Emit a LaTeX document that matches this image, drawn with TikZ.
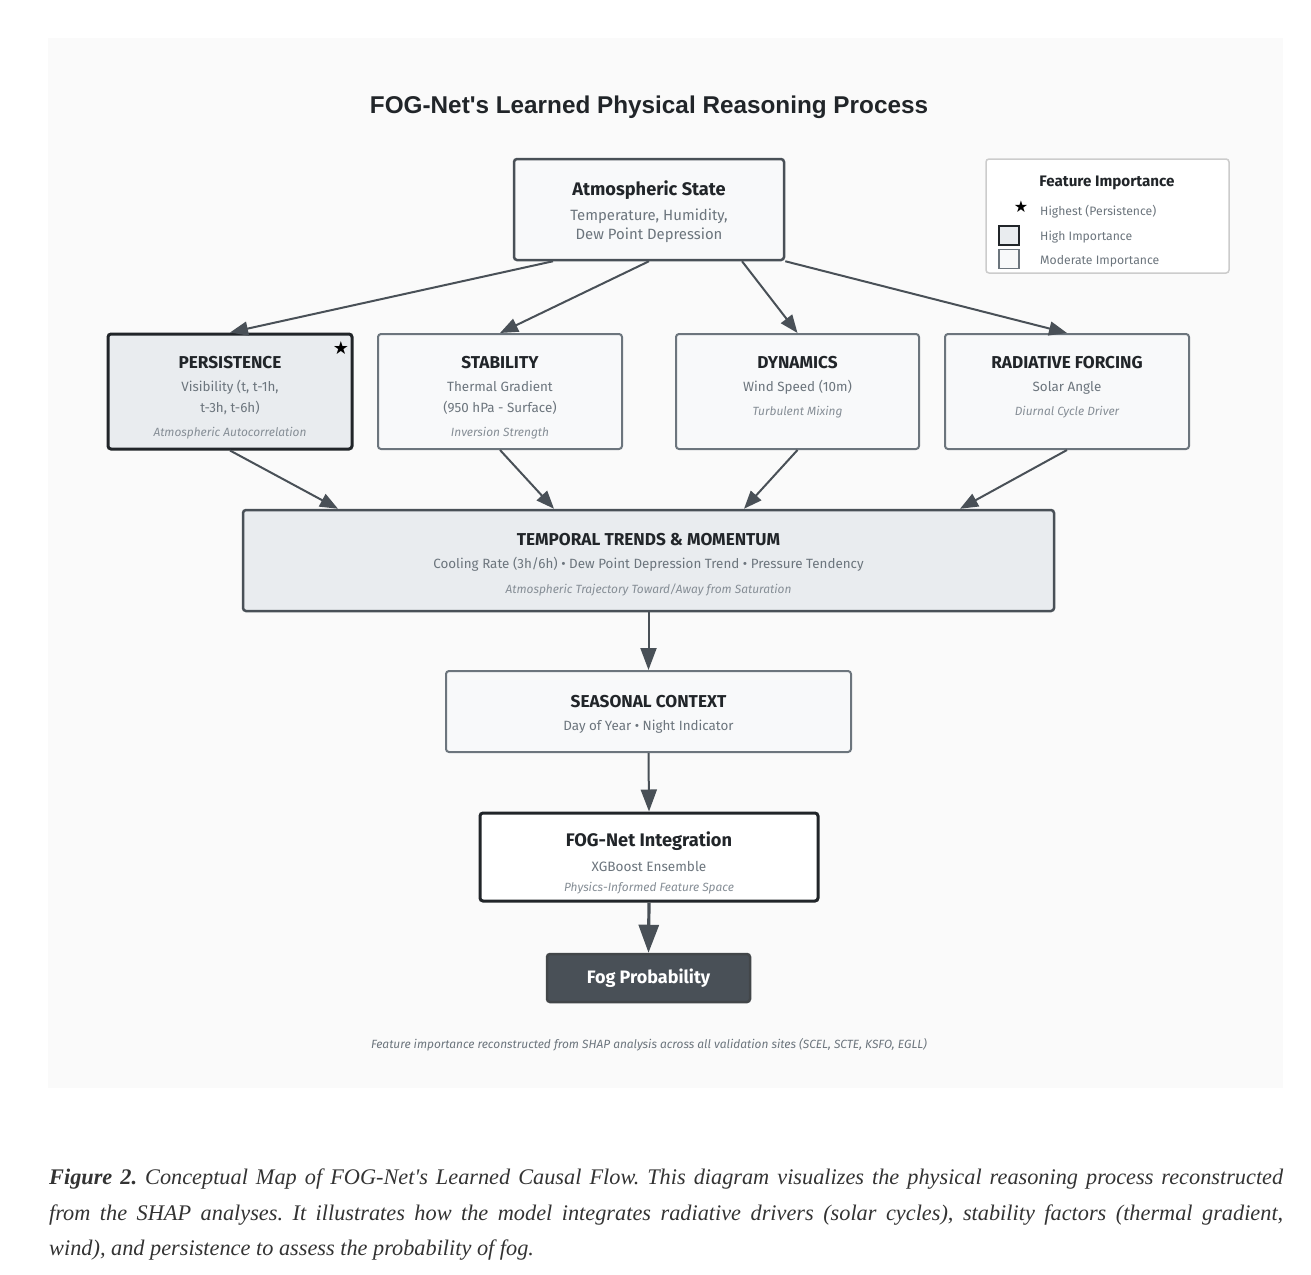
\documentclass[tikz,border=0pt]{standalone}
\usepackage{fontspec}
\setmainfont{Fira Sans}
\newfontfamily\headfont{Liberation Sans}
\newfontfamily\capfont{Liberation Serif}
\newfontfamily\symfont{DejaVu Sans}
\usetikzlibrary{arrows.meta}
\definecolor{ink}{HTML}{212529}
\definecolor{edge}{HTML}{495057}
\definecolor{subgray}{HTML}{6C757D}
\definecolor{notegray}{HTML}{868E96}
\definecolor{lightfill}{HTML}{F8F9FA}
\definecolor{highfill}{HTML}{E9ECEF}
\definecolor{bgfill}{HTML}{FAFAFA}
\definecolor{capgray}{HTML}{333333}
\newcommand\cardtitle[1]{{\fontsize{17.2}{19}\selectfont\bfseries\color{ink}#1}}
\newcommand\bigtitle[1]{{\fontsize{18.2}{21}\selectfont\bfseries\color{ink}#1}}
\newcommand\note[1]{{\fontsize{11.9}{14}\selectfont\itshape\color{notegray}#1}}
\newcommand\topstrut[1]{\rule{0pt}{#1}}
\newcommand\lowstrut[1]{\rule[-#1]{0pt}{#1}}
\newcommand\starmark{{\symfont ★}}
\tikzstyle{card}=[rectangle,rounded corners=3pt,draw=subgray,line width=2pt,fill=lightfill,align=center,text=subgray,font=\fontsize{13.4}{21}\selectfont,minimum width=244pt,minimum height=115pt,inner sep=0pt]
\tikzstyle{high}=[draw=ink,line width=3pt,fill=highfill]
\tikzstyle{core}=[draw=edge,line width=2.5pt]
\tikzstyle{legtext}=[anchor=west,inner sep=0pt,text=subgray,font=\fontsize{12.2}{14}\selectfont]
\tikzstyle{flow}=[line width=2pt,draw=edge,-{Triangle[length=18pt,width=14pt]}]
\tikzstyle{flowv}=[line width=2pt,draw=edge,-{Triangle[length=22pt,width=16pt]}]
\tikzstyle{flowout}=[line width=3.2pt,draw=edge,-{Triangle[length=28pt,width=20pt]}]
\begin{document}
\begin{tikzpicture}[x=1pt,y=-1pt]
	\useasboundingbox (0,0) rectangle (1311,1274);
	\fill[bgfill] (48,38) rectangle (1283,1088);
	\node[text=ink,font=\headfont\bfseries\fontsize{24.3}{28}\selectfont] (title) at (649,107) {FOG-Net's Learned Physical Reasoning Process};
	% input state
	\node[card,core,minimum width=270pt,minimum height=101pt,font=\fontsize{14.9}{19}\selectfont] (atm) at (649,209.5)
		{\topstrut{18.5pt}\bigtitle{Atmospheric State}\\[6pt] Temperature, Humidity,\\ Dew Point Depression};
	% legend
	\node[rectangle,rounded corners=3pt,draw=black!20,line width=1.5pt,fill=white,minimum width=243pt,minimum height=114pt] (leg) at (1107.5,216) {};
	\node[text=ink,font=\fontsize{15.2}{17}\selectfont\bfseries] (legtitle) at (1107,183) {Feature Importance};
	\node[inner sep=0pt,font=\fontsize{16}{17}\selectfont] (legstar) at (1021,207) {\starmark};
	\node[legtext] (leghigh) at (1040,211.5) {Highest (Persistence)};
	\node[rectangle,high,line width=2.5pt,minimum width=20pt,minimum height=19pt,inner sep=0pt] (swhigh) at (1009,235.5) {};
	\node[legtext] (legimp) at (1040,237.5) {High Importance};
	\node[rectangle,draw=subgray,line width=1.5pt,fill=lightfill,minimum width=20pt,minimum height=19pt,inner sep=0pt] (swmod) at (1009,259) {};
	\node[legtext] (legmod) at (1040,261) {Moderate Importance};
	% feature groups
	\node[card,high] (pers) at (230,391.5)
		{\topstrut{24pt}\cardtitle{PERSISTENCE}\\[2pt] Visibility (t, t-1h,\\ t-3h, t-6h)\\[3pt] \note{Atmospheric Autocorrelation}};
	\node[inner sep=0pt,font=\fontsize{18}{19}\selectfont] (persstar) at (341,348) {\starmark};
	\node[card] (stab) at (500,391.5)
		{\topstrut{24pt}\cardtitle{STABILITY}\\[2pt] Thermal Gradient\\ (950 hPa - Surface)\\[3pt] \note{Inversion Strength}};
	\node[card,minimum width=243pt] (dyn) at (797.5,391.5)
		{\cardtitle{DYNAMICS}\\[2pt] Wind Speed (10m)\\[3pt] \note{Turbulent Mixing}\lowstrut{11pt}};
	\node[card] (rad) at (1067,391.5)
		{\cardtitle{RADIATIVE FORCING}\\[2pt] Solar Angle\\[3pt] \note{Diurnal Cycle Driver}\lowstrut{11pt}};
	% aggregation chain
	\node[card,core,fill=highfill,minimum width=811pt,minimum height=101pt] (temp) at (648.5,560.5)
		{\topstrut{21pt}\cardtitle{TEMPORAL TRENDS \& MOMENTUM}\\[2pt] Cooling Rate (3h/6h) • Dew Point Depression Trend • Pressure Tendency\\[4pt] \note{Atmospheric Trajectory Toward/Away from Saturation}};
	\node[card,minimum width=405pt,minimum height=81pt] (seas) at (648.5,711.5)
		{\topstrut{18pt}\cardtitle{SEASONAL CONTEXT}\\[2pt] Day of Year • Night Indicator};
	\node[card,high,fill=white,minimum width=338pt,minimum height=88pt,font=\fontsize{13.6}{21}\selectfont] (fog) at (649,857)
		{\topstrut{26pt}\bigtitle{FOG-Net Integration}\\[4pt] XGBoost Ensemble\\[-1pt] \note{Physics-Informed Feature Space}};
	\node[card,draw=ink!85,line width=2.5pt,fill=edge,text=white,minimum width=203pt,minimum height=48pt,font=\fontsize{18}{20}\selectfont\bfseries] (prob) at (648.5,978) {Fog Probability};
	% connectors
	\draw[flow] ([xshift=-96pt]atm.south) -- (pers.north);
	\draw[flow] (atm.south) -- (stab.north);
	\draw[flow] ([xshift=93pt]atm.south) -- (dyn.north);
	\draw[flow] (atm.south east) -- (rad.north);
	\draw[flow] (pers.south) -- ([xshift=-310.5pt]temp.north);
	\draw[flow] (stab.south) -- ([xshift=-94.5pt]temp.north);
	\draw[flow] (dyn.south) -- ([xshift=95.5pt]temp.north);
	\draw[flow] (rad.south) -- ([xshift=311.5pt]temp.north);
	\draw[flowv] (temp.south) -- (seas.north);
	\draw[flowv] (seas.south) -- (fog.north);
	\draw[flowout] (fog.south) -- (prob.north);
	\node[font=\fontsize{11.9}{14}\selectfont\itshape,text=subgray] (foot) at (649,1045) {Feature importance reconstructed from SHAP analysis across all validation sites (SCEL, SCTE, KSFO, EGLL)};
	\node[anchor=north west,text width=1234pt,align=justify,inner sep=0pt,text=capgray,font=\capfont\itshape\fontsize{22.3}{35.5}\selectfont\frenchspacing] (cap) at (49,1169)
		{\textbf{Figure 2.} Conceptual Map of FOG-Net's Learned Causal Flow. This diagram visualizes the physical reasoning process reconstructed\linebreak from the SHAP analyses. It illustrates how the model integrates radiative drivers (solar cycles), stability factors (thermal gradient,\linebreak wind), and persistence to assess the probability of fog.};
\end{tikzpicture}
\end{document}
